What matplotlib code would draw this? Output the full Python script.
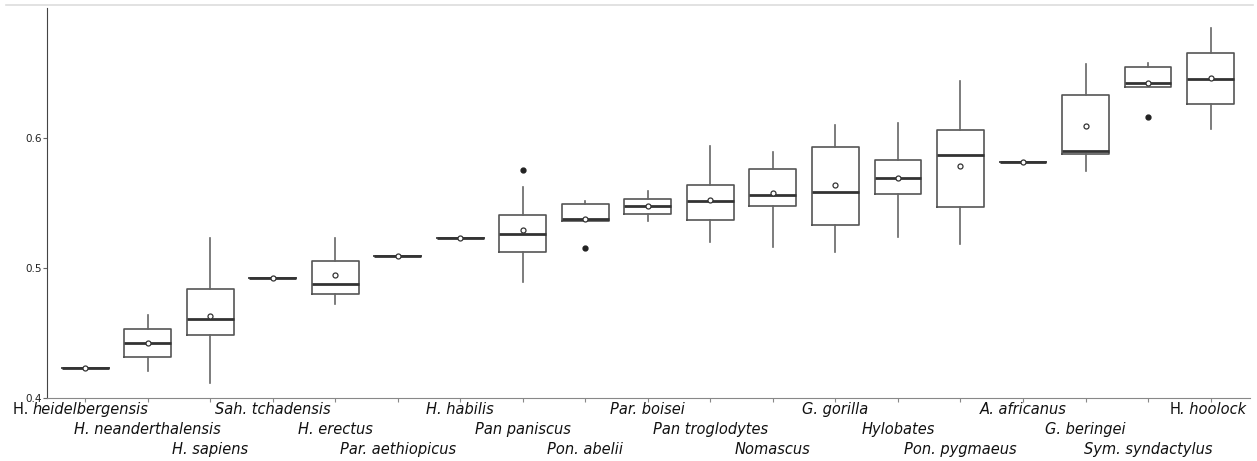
import matplotlib
matplotlib.use("Agg")
import matplotlib.pyplot as plt
from matplotlib.lines import Line2D

# species in plot order, with the part of the name shown upright (prefix)
prefixes = ["H.", "", "", "", "", "", "", "", "", "", "", "", "", "", "", "", "", "", "H"]
names = ["heidelbergensis", "H. neanderthalensis", "H. sapiens", "Sah. tchadensis",
         "H. erectus", "Par. aethiopicus", "H. habilis", "Pan paniscus", "Pon. abelii",
         "Par. boisei", "Pan troglodytes", "Nomascus", "G. gorilla", "Hylobates",
         "Pon. pygmaeus", "A. africanus", "G. beringei", "Sym. syndactylus", ". hoolock"]

# box statistics
whislo = [0.423, 0.4208, 0.4115, 0.4923, 0.4723, 0.509, 0.523, 0.4892, 0.5359, 0.5362,
          0.5203, 0.5162, 0.5123, 0.5238, 0.5182, 0.5815, 0.5746, 0.639, 0.6069]
q1 = [0.423, 0.4315, 0.4485, 0.4923, 0.480, 0.509, 0.523, 0.512, 0.5359, 0.5415,
      0.5372, 0.5477, 0.533, 0.557, 0.5467, 0.5815, 0.5877, 0.639, 0.6264]
med = [0.423, 0.4423, 0.4608, 0.4923, 0.4877, 0.509, 0.523, 0.5264, 0.5377, 0.5474,
       0.5515, 0.5564, 0.5585, 0.5692, 0.5869, 0.5815, 0.5902, 0.6421, 0.6456]
q3 = [0.423, 0.4531, 0.4838, 0.4923, 0.5056, 0.509, 0.523, 0.541, 0.549, 0.5533,
      0.5636, 0.5762, 0.593, 0.583, 0.6059, 0.5815, 0.6328, 0.6546, 0.6654]
whishi = [0.423, 0.4638, 0.523, 0.4923, 0.5233, 0.509, 0.523, 0.562, 0.5515, 0.559,
          0.594, 0.5895, 0.610, 0.6115, 0.6438, 0.5815, 0.6572, 0.6577, 0.6846]
means = [0.423, 0.4423, 0.463, 0.4923, 0.4946, 0.509, 0.523, 0.5295, 0.538, 0.5474,
         0.5523, 0.5574, 0.5638, 0.5692, 0.5787, 0.5815, 0.6092, 0.6425, 0.6459]
outliers = {7: [0.5754], 8: [0.5152], 17: [0.6162]}

yticks = [0.4, 0.5, 0.6]

stats = []
for i in range(len(names)):
    stats.append(dict(whislo=whislo[i], q1=q1[i], med=med[i], q3=q3[i],
                      whishi=whishi[i], mean=means[i], fliers=outliers.get(i, [])))

fig = plt.figure(figsize=(12.57, 4.61), dpi=100)
ax = fig.add_axes([0.0374, 0.1367, 0.9570, 0.8459])

pos = list(range(len(names)))
ax.bxp(stats, positions=pos, widths=0.75, showmeans=True, showcaps=False,
       boxprops=dict(color="#555555", lw=1.2),
       whiskerprops=dict(color="#666666", lw=1.2),
       medianprops=dict(color="#333333", lw=2.0),
       meanprops=dict(marker="o", markerfacecolor="white", markeredgecolor="#333333",
                      markersize=3.6, markeredgewidth=0.9),
       flierprops=dict(marker="o", markerfacecolor="#222222", markeredgecolor="#222222",
                       markersize=3.5))

ax.set_xlim(-0.61, 18.63)
ax.set_ylim(0.4, 0.7)
ax.set_yticks(yticks)
ax.set_yticklabels([str(t) for t in yticks], fontsize=7.5, color="#222222")
ax.set_xticks(pos)
ax.set_xticklabels([])
ax.tick_params(axis="x", length=3, color="#888888")
ax.tick_params(axis="y", length=3, color="#666666", pad=1)
for s in ["top", "right"]:
    ax.spines[s].set_visible(False)
ax.spines["left"].set_color("#444444")
ax.spines["bottom"].set_color("#888888")

# staggered species labels in three rows
for i, (pre, nm) in enumerate(zip(prefixes, names)):
    row = i % 3
    dx = 0
    if pre == "H.":
        dx = 4
    elif pre == "H":
        dx = 2
    t = ax.annotate(nm, xy=(i, 0), xycoords=("data", "axes fraction"),
                    xytext=(dx, -3 - row * 14.4), textcoords="offset points",
                    ha="center", va="top", fontsize=10.5, style="italic", color="#111111")
    if pre:
        ax.annotate(pre + (" " if pre == "H." else ""), xy=(0, 1), xycoords=t,
                    ha="right", va="top", fontsize=10.5, color="#111111")

fig.add_artist(Line2D([0.005, 0.997], [0.989, 0.989], color="#dddddd", lw=1.2))

fig.savefig("out.png", dpi=100)
